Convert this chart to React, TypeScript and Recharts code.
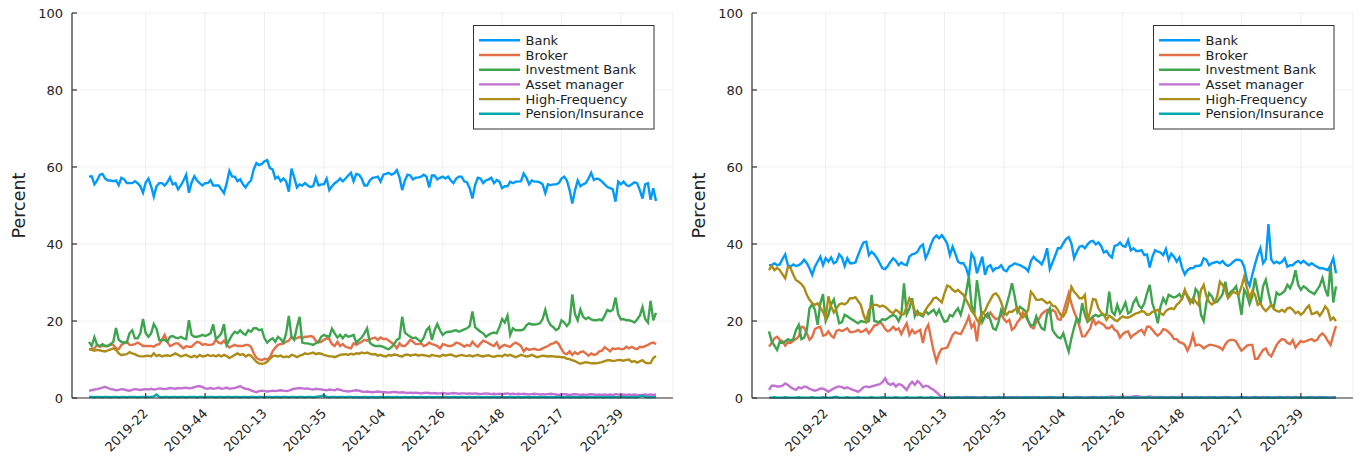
import React from 'react';
import { LineChart, Line, XAxis, YAxis, CartesianGrid, Legend } from 'recharts';

const tickIdx = [21, 43, 65, 87, 109, 131, 153, 175, 197];
const tickLabels = ['2019-22', '2019-44', '2020-13', '2020-35', '2021-04', '2021-26', '2021-48', '2022-17', '2022-39'];
const yTicks = [0, 20, 40, 60, 80, 100];
const seriesNames = ['Bank', 'Broker', 'Investment Bank', 'Asset manager', 'High-Frequency', 'Pension/Insurance'];
const seriesColors = ['#009AFA', '#E36F47', '#3EA44E', '#C271D2', '#AC8D18', '#00A9AD'];

// ---------- Left panel ----------
const leftBank = [
  57.5,57.6,55.5,56.5,58,58.2,57,56.5,56.5,56.3,
  56.5,55.3,57.2,56.8,55.8,55.8,55.8,56.3,55.8,55,
  53.3,56,57,55,52.3,55,55.8,55.8,55.2,56,
  57.3,55.5,55.8,54.2,55.2,56.5,58,53.3,56,57.6,
  56.5,55.8,55.2,55.8,55.8,56.6,55.2,55.2,55.2,54.2,
  53.2,55.8,59,57.5,57.5,56.3,56.8,55.5,54.7,55.8,
  56.5,59.4,61,60.5,60.8,61.5,61.8,59.7,59.4,57,
  57.5,56.3,57,56.3,53.6,59.6,57.3,54.7,55.5,55.2,
  55.8,55.2,54.8,55,57.3,55.2,55.5,55.5,57,54,
  55,55.8,56.3,57,56.3,57,57.8,58.5,56.3,58.2,
  58,57,55.2,55.2,56.5,57.2,57.3,57.5,56.2,58,
  58.2,58.5,58,58.3,59.2,57.3,54,56.5,58,57.8,
  56.8,57.2,57.3,57.5,58,57.5,54.7,57.8,57.8,56.8,
  57.2,57.5,57,57.5,56.5,55.8,57,57.5,57.5,56.3,
  56,54.5,51.8,55.3,57.2,57,55.8,56.5,56.8,57.2,
  55.8,56.6,56.2,54.5,55,55,56.2,55.8,56.2,56.2,
  56.3,58.3,57.2,55.5,56.5,56.2,56.2,56,55.5,53.2,
  55.5,55.3,55.5,55.5,55.8,57,57.5,56.5,54,50.5,
  53.9,56.5,55,55.5,55.8,57,58.5,56.6,57,56.8,
  56.2,55.5,54.8,54.5,54.2,51,56.2,55.5,56.2,55.3,
  55,55.5,56,55.8,54,51.8,55.5,55.8,51.5,54.5,51.2,
];
const leftBroker = [
  12.7,12.7,12.9,13.8,13.3,13.5,13.5,13.5,13.8,13.8,
  12.9,12.7,13.8,14.2,14.6,13.8,13.8,14,14.4,14,
  13.5,13.5,13.5,13.5,13.3,13.8,14,15.1,16.4,14.6,
  13.5,13.8,14.2,14.2,13.5,12.9,13.5,13.3,13.3,14,
  14.6,14.4,13.8,14,13.8,13.8,14,15.1,14.4,14.2,
  14.9,13.8,13.1,13.5,13.8,13.5,13.5,13.5,13.8,13.8,
  13.3,11.6,10.4,10,9.8,10.2,10,10.6,12.1,13.1,
  13.8,14,14.2,14.6,14.9,15.9,15.5,15.5,15.9,15.5,
  15.9,15.9,16.1,15.9,14.9,14.4,14.6,15.1,15.5,15.3,
  14,13.5,14.6,13.5,14,13.3,13.1,12.9,14.2,13.8,
  14.2,14.6,15.1,14.9,15.3,15.5,15.7,15.1,15.7,15.3,
  15.4,14.9,14.4,13.8,12.9,14.2,13.5,13.5,14.2,15.1,
  14.6,14,14,14.2,13.5,13.8,14.4,14,13.8,13.5,
  12.9,14,13.8,13.5,13.5,13.8,14.4,14.2,13.8,13.3,
  13.8,13.5,14.6,13.8,13.3,14.2,14.9,14.6,14.2,13.8,
  13.5,14.4,12.9,13.5,13.8,13.5,13.3,14,14.4,14,
  13.5,12.1,12.9,12.5,12.7,12.8,12.5,12.5,12.9,13.2,
  13.5,14,14.2,14.6,14,12.7,11.6,11.4,12.1,11.2,
  11.9,11.4,11.9,12.1,11.6,11,11.6,11.2,11.4,12.1,
  12.3,13.2,12.7,12.1,12.9,12.7,12.9,12.7,12.7,13.3,
  12.9,13.3,12.9,12.7,13.3,13.2,13.5,13.8,14.2,14.4,14,
];
const leftInvBank = [
  14.6,13.5,15.8,13.8,13.5,14,13.5,13.5,14,14.6,
  18.2,15.1,14.6,14.4,14.4,16.8,17.6,15.5,15.5,16.8,
  20.5,16.8,15.9,16.8,19.2,18,15.1,15,15.1,14.6,
  15.9,16.1,15.7,15.5,15.9,15.5,15.3,20.2,16.4,15.9,
  15.9,16.1,16.4,16.1,16.4,16.8,19.1,15.3,15.9,16.8,
  19.2,13.8,15.1,16.4,17.2,16.8,17.6,16.8,16.4,17.6,
  17.2,18.1,18.1,17.6,17.8,15.5,14.4,15.1,15.5,14.6,
  15.9,15.3,14.4,16.8,21.3,15.9,15.1,18.4,21.1,14.4,
  14.2,14.2,14,13.8,14.2,14.6,15.9,16.4,16.1,15.9,
  18,16.8,15.7,16.4,15.5,16.4,15.9,16.1,16.4,14.4,
  15.1,15.7,16.8,18.1,14.4,13.8,13.5,13.5,13.5,13.3,
  12.9,12.7,13.2,14,15.1,15.5,21.1,17,16.4,15.9,
  15.5,15.7,15.1,14.6,15.7,17.6,18.4,15.1,17.6,19.2,
  17.6,16.4,17,17.2,17.2,17.5,17.6,17.2,17.5,17.8,
  18.1,18.7,22.5,18.4,17.8,17.2,16.8,15.9,16.4,16.8,
  17,16.8,18.4,20.5,19.6,21.4,16.4,18.1,17.6,17.6,
  17.6,17.8,18.9,19.4,19.1,19.1,19.2,19.4,20.5,22.9,
  20.2,18.9,18.4,17.6,18.1,20.2,19.6,18.7,19.6,26.9,
  21.8,20.2,23,21.1,20.5,20.9,20.4,20.2,20.2,20.4,
  20.2,21.4,22.9,22.5,22.9,26.1,21.8,20.4,20.5,20.2,
  20.2,20,19.6,20.4,21.4,23.6,20.5,19.6,25.2,20.2,22.1,
];
const leftAssetMgr = [
  1.9,2.0,2.2,2.3,2.5,2.7,2.9,2.6,2.3,2.2,
  2.0,2.1,2.3,2.2,2.0,1.9,2.1,2.3,2.2,2.1,
  2.2,2.3,2.2,2.4,2.2,2.3,2.5,2.4,2.3,2.4,
  2.6,2.5,2.4,2.6,2.5,2.6,2.7,2.5,2.6,2.8,
  3.0,3.1,2.8,2.5,2.4,2.6,2.4,2.5,2.7,2.4,
  2.5,2.7,2.4,2.5,2.6,2.8,3.1,2.6,2.4,2.3,
  2.0,1.7,1.5,1.8,1.9,1.8,1.7,1.8,1.9,1.8,
  1.9,2.0,1.9,1.8,1.9,2.2,2.4,2.5,2.6,2.5,
  2.4,2.5,2.3,2.2,2.4,2.3,2.2,2.1,2.0,2.2,
  2.1,2.0,2.3,2.1,1.9,1.8,1.7,1.8,1.9,2.0,
  1.9,1.7,1.6,1.7,1.6,1.5,1.6,1.7,1.6,1.5,
  1.5,1.4,1.5,1.6,1.5,1.4,1.5,1.4,1.3,1.4,
  1.3,1.4,1.3,1.2,1.3,1.4,1.3,1.2,1.3,1.2,
  1.2,1.3,1.2,1.1,1.2,1.3,1.2,1.1,1.2,1.2,
  1.1,1.2,1.1,1.2,1.1,1.0,1.1,1.2,1.1,1.0,
  1.1,1.0,1.1,1.0,1.1,1.2,1.0,1.1,1.0,1.1,
  1.0,1.1,1.0,0.9,1.0,1.1,1.0,0.9,1.0,0.9,
  1.0,1.1,1.0,0.9,0.8,0.9,1.0,0.9,0.8,0.9,
  1.0,0.9,0.8,0.9,0.8,0.9,1.0,0.9,0.8,0.9,
  0.8,0.9,0.8,0.9,0.8,1.0,0.9,0.8,0.9,0.8,
  0.9,0.8,0.9,0.8,0.7,0.8,0.9,0.8,0.9,0.8,0.9,
];
const leftHighFreq = [
  12.7,12.5,12.3,12.5,12.4,12.2,12.1,12.4,12.6,12.9,
  12.5,11.6,11.1,11.3,11.4,11.9,11.6,11.4,11.0,10.8,
  10.8,10.9,11.0,10.8,11.6,10.9,11.2,10.8,11.0,11.1,
  10.9,11.2,11.6,11.2,10.8,11.0,11.2,10.8,10.6,11.0,
  10.6,11.2,10.8,10.9,11.2,10.9,11.1,10.8,11.2,10.8,
  11.2,10.9,10.4,10.8,11.2,11.6,11.2,11.4,10.8,11.2,
  11.0,10.2,9.4,9.0,8.9,9.0,9.4,10.2,10.8,11.0,
  10.8,11.0,10.6,10.8,10.6,11.2,11.0,10.6,11.0,11.2,
  11.6,11.4,11.6,11.8,11.4,11.6,11.5,11.2,11.0,10.8,
  10.8,10.6,10.9,11.2,11.3,11.4,11.2,11.5,11.3,11.6,
  11.5,11.8,11.6,11.8,11.5,11.3,11.4,11.0,11.2,10.9,
  10.8,11.2,11.0,11.3,11.2,10.9,10.8,11.2,11.3,11.0,
  11.2,11.3,11.0,11.2,11.1,11.0,10.8,11.2,11.0,10.9,
  10.8,11.2,11.0,11.2,11.3,11.0,10.8,11.0,11.2,11.0,
  10.9,11.1,10.8,11.0,11.2,10.9,10.8,11.0,11.1,10.8,
  10.7,10.9,11.0,10.8,11.3,11.0,11.2,10.9,10.6,10.9,
  11.2,11.0,10.8,10.9,11.2,10.9,10.6,10.8,11.0,10.9,
  10.8,10.9,10.8,10.7,10.7,10.6,10.6,10.2,10.1,9.8,
  9.6,9.2,8.9,9.1,9.3,9.2,9.0,9.1,9.0,9.2,
  9.3,9.6,9.8,9.8,9.6,9.7,9.9,9.8,9.7,9.9,
  10.0,9.4,9.6,9.2,9.5,9.8,9.2,9.0,9.1,10.4,10.9,
];
const leftPension = [
  0.3,0.3,0.2,0.3,0.3,0.2,0.3,0.3,0.2,0.3,
  0.3,0.2,0.3,0.3,0.2,0.3,0.3,0.3,0.2,0.3,
  0.3,0.2,0.3,0.3,0.4,0.9,0.3,0.2,0.3,0.3,
  0.2,0.3,0.3,0.2,0.3,0.3,0.2,0.3,0.3,0.3,
  0.2,0.3,0.3,0.2,0.3,0.3,0.3,0.2,0.3,0.3,
  0.2,0.3,0.3,0.2,0.3,0.3,0.2,0.3,0.3,0.2,
  0.3,0.3,0.2,0.3,0.3,0.2,0.3,0.3,0.2,0.3,
  0.3,0.2,0.3,0.3,0.2,0.3,0.3,0.2,0.3,0.3,
  0.2,0.3,0.3,0.2,0.3,0.4,0.5,0.7,0.3,0.2,
  0.3,0.3,0.2,0.3,0.3,0.2,0.3,0.3,0.2,0.3,
  0.2,0.2,0.3,0.2,0.2,0.3,0.2,0.2,0.3,0.2,
  0.2,0.3,0.2,0.2,0.3,0.2,0.2,0.3,0.2,0.2,
  0.3,0.2,0.2,0.3,0.2,0.2,0.3,0.2,0.2,0.3,
  0.2,0.2,0.3,0.2,0.2,0.3,0.2,0.2,0.3,0.2,
  0.2,0.3,0.2,0.2,0.3,0.2,0.2,0.3,0.2,0.2,
  0.3,0.2,0.2,0.3,0.2,0.2,0.3,0.2,0.2,0.3,
  0.2,0.2,0.3,0.2,0.2,0.3,0.2,0.2,0.3,0.2,
  0.2,0.3,0.2,0.2,0.3,0.2,0.2,0.3,0.2,0.2,
  0.3,0.2,0.2,0.3,0.2,0.2,0.3,0.2,0.2,0.3,
  0.2,0.2,0.3,0.2,0.2,0.3,0.2,0.2,0.3,0.2,
  0.2,0.3,0.2,0.2,0.4,0.6,0.3,0.2,0.2,0.3,0.2,
];

// ---------- Right panel ----------
const rightBank = [
  34.5,34.5,35,34.5,34.7,36.1,37.3,34.5,34.1,34.7,
  34.3,34.5,35,35.9,35,33.7,32,34.1,35.4,36.7,
  34.5,36.3,35.4,36.5,35,35.4,37.3,36.5,34.3,36.3,
  35,35,35.2,37.1,38.9,40.4,40.6,37.1,38,37.3,
  36.3,35,33.7,33.5,34.3,35.4,36.3,35.6,34.5,35.2,
  34.7,34.5,36.7,37.3,37.5,38,39.3,39.9,36.3,37.8,
  39.9,41.5,42.2,41.5,42.3,41.3,40.1,37.1,39.3,37.5,
  35.4,35,35,33.8,31.5,37.5,36.3,32.4,34.5,36.7,
  32,34.1,34.5,33,33.7,33.8,34.5,33.2,32.9,34.1,
  34.5,35,34.7,34.5,34.1,33.7,32.9,35.6,36.7,35.9,
  35.4,34.7,36.3,38.9,33.5,35.2,37,38.9,38.9,40.2,
  41.3,41.8,40.2,36.3,38,39.3,39.5,38.9,39.9,40.6,
  40.8,39.9,40.4,39.5,37.8,38.2,37.1,36.5,39.5,39.7,
  40.4,39.5,39.3,41,38.4,38.9,38.2,38.2,38.4,37.1,
  37.3,33.9,36.7,38.4,38,37.8,37.1,38.7,35.9,37.5,
  36.7,35.4,36.5,33.8,32.1,33.2,33.7,33.7,34.3,34.3,
  34.5,36.3,35.9,34.5,35,35.2,35.4,35,35.6,34.7,
  34.3,34.7,35.4,35.9,35.9,35.6,34.1,30.6,29.1,32,
  34.7,37.1,38.9,35,36,45.2,36,35,35.4,35,
  35.4,36.3,34.1,34.5,34.5,35.2,35.6,35,35.6,35,
  34.5,35,34.5,34.1,33.7,33.7,33.5,33.2,34.5,36.3,32.4,
];
const rightBroker = [
  13.4,14.3,15.5,15.9,15.1,14.7,13.6,14.5,14.3,14.9,
  15.3,15.9,18.5,18.3,16.8,15.1,15.9,17.9,18.3,18.5,
  16.2,16.4,17.3,16.2,15.7,17.4,17.7,17.4,17.7,18.1,
  17.1,17.1,17.3,17.7,17.1,17.4,17.9,16.8,17.7,18.8,
  19,19.8,19.1,17.9,17.3,17.7,18.5,17.7,18.1,16.6,
  18.1,19.4,16.4,17.7,16.8,17.3,17.7,14.3,17.7,19,
  15.5,12.1,9.5,11.6,12.8,12.9,13.1,14.7,16.4,17.1,
  16.8,16.6,17.9,19.4,21.2,18.3,19.4,14.7,20.7,22.2,
  21.6,20.9,22.2,21.2,20.5,20.7,21.8,20.5,19.7,20.3,
  17.7,18.3,19.7,20.5,22.2,21.2,20,18.5,18.1,19.8,
  20.5,21.8,22.4,22.9,22,22.9,22.4,20.5,20.3,22.4,
  24.8,27.2,24.6,22.4,20.7,18.5,16,16,17.1,18.1,
  20.7,19.1,19.8,19.4,19,18.1,18.1,18.8,17.7,17.3,
  15.7,16.6,17.1,17.3,15.7,16.4,16.8,17.4,17.7,16.6,
  18.5,18.5,17.7,16.8,16.2,16.8,17.9,17.7,17.1,16.4,
  15.3,15.3,14.5,14.3,13.8,12.3,13.8,16.4,13.6,13.9,
  13.6,12.9,13.4,13.8,13.8,13.6,13.4,13.1,12.5,13.9,
  14.8,15.1,15.1,14.7,13.4,12.3,12.9,13.6,13.8,13.8,
  10.2,10.2,11.4,12.5,12.9,11.4,10.8,12.3,13.8,14.7,
  15.3,15.1,14.3,14,15.1,13.1,14,14.8,14.5,14.8,
  15.1,15.3,14.8,15.1,16.2,16.8,16,14.8,13.8,16.4,18.7,
];
const rightInvBank = [
  17.3,14.7,13.6,12.5,14.7,14.3,14.7,15.3,14.9,15.3,
  17.7,19,15.3,15.7,17.7,23.3,24.3,22.9,19,24.6,
  27,20,21.6,24.3,25.6,22.4,19.4,19.7,21.6,21.2,
  20.7,20.3,19.8,19.4,20,19.8,19.7,20,26.8,20,
  19.8,19.7,20.5,20.3,20.7,21.2,21.6,21.2,20,21.6,
  29.8,21.8,23.3,25.9,21.2,22.6,21.6,21.2,22.6,21.8,
  22.4,22.9,21.6,22.9,21.2,19.8,20,21.6,21.2,22.4,
  23.3,21.6,24.2,27.4,31.5,24.3,21.6,30.6,25.9,19.8,
  21.2,22,20.3,18.1,17.7,19.7,22.9,21.8,24.2,26.8,
  29.8,26.4,22.4,23.7,23.1,22.6,20,18.8,19,21.2,
  19.4,18.1,17.7,22,23.3,17.7,16.6,15.8,15.5,16.8,
  14.3,12.1,15.5,18.3,20.7,19.8,24.6,21.6,19.8,20.5,
  21.2,21.6,21.2,21.6,21.6,21.6,27.6,22.4,21.6,24.2,
  22,23.1,24.8,22,22.4,24.8,25.9,24,23.3,24.6,
  27.2,29.4,24.6,22.4,19.4,23.7,25.9,24.6,26.8,26.4,
  26.1,26.4,27,25.9,27.8,26.6,25.5,24.8,28.3,27.4,
  21.6,20,24.8,27.2,26.4,24.8,25,25.9,27,30.2,
  26.4,27.6,28.1,29,25.9,21.6,28.1,26.8,24.4,26.4,
  31.2,27.6,24.2,29,30.7,27.2,24.2,23.7,27.4,26.8,
  27.2,27.8,29.4,28.5,30.2,33.2,29.4,28.1,29,28.5,
  27.8,27.4,27,28.1,29.2,31.2,28.3,26.4,34.5,24.8,29,
];
const rightAssetMgr = [
  2.1,3.2,3.2,3.0,3.0,3.2,3.8,3.4,2.8,2.4,
  2.1,2.8,2.5,3.0,2.8,2.4,2.1,1.9,2.1,2.5,
  2.4,2.1,1.6,2.1,2.5,2.8,3.0,2.8,2.5,2.8,
  2.4,2.1,1.9,1.6,2.1,2.8,3.0,2.8,3.0,3.2,
  3.4,3.6,4.1,5.1,3.8,3.4,3.8,3.0,3.6,3.4,
  2.8,2.1,3.4,4.2,3.4,4.4,3.8,2.8,3.2,3.0,
  2.5,2.1,1.5,0.8,0.3,0.2,0.1,0.2,0.1,0.2,
  0.2,0.1,0.2,0.3,0.2,0.1,0.2,0.2,0.1,0.2,
  0.3,0.2,0.1,0.2,0.2,0.3,0.2,0.1,0.2,0.2,
  0.1,0.2,0.3,0.2,0.2,0.1,0.2,0.2,0.3,0.2,
  0.2,0.1,0.2,0.2,0.3,0.2,0.2,0.1,0.2,0.3,
  0.2,0.2,0.1,0.2,0.3,0.2,0.2,0.1,0.2,0.2,
  0.3,0.2,0.2,0.3,0.2,0.2,0.3,0.4,0.3,0.2,
  0.3,0.4,0.3,0.2,0.3,0.4,0.5,0.4,0.3,0.2,
  0.3,0.4,0.3,0.2,0.3,0.2,0.3,0.2,0.2,0.3,
  0.2,0.2,0.3,0.2,0.2,0.1,0.2,0.2,0.3,0.2,
  0.2,0.1,0.2,0.3,0.2,0.2,0.1,0.2,0.2,0.3,
  0.2,0.2,0.1,0.2,0.2,0.3,0.2,0.2,0.1,0.2,
  0.3,0.2,0.2,0.3,0.2,0.2,0.1,0.2,0.2,0.3,
  0.2,0.2,0.3,0.2,0.2,0.3,0.2,0.2,0.1,0.2,
  0.2,0.3,0.2,0.2,0.3,0.2,0.2,0.2,0.1,0.2,0.2,
];
const rightHighFreq = [
  33.2,34.3,33.2,33.8,33.2,32.1,31.1,34.1,33.7,32,
  30.6,30.2,29.6,28.7,26.8,25.5,24.6,24.2,24.6,23.5,
  22.4,20.7,26.4,23.8,22.2,23.3,24.3,24.6,24.3,24.8,
  25.9,25.9,26.2,25.2,24.2,21.6,20,22.9,23.7,24.2,
  24.2,23.7,24,23.7,23.1,22.4,22,22.9,22.4,21.6,
  21.8,23.8,25.9,24.8,22.6,21.6,22,21.6,22.9,24,
  24.8,25.9,26.1,25.5,24.8,27.2,29.2,28.9,28.1,27.6,
  28.1,27.4,26.8,25.5,24.2,22.6,21.8,20.3,19.4,22,
  22.6,24.3,25.5,26.8,27.2,26.4,24.8,22.6,21.6,22.4,
  22.4,22.9,23.5,21.8,20.9,21.6,22.9,27.6,26.8,25.5,
  25.5,25.7,25.2,24.6,25,24,23.8,22.9,21.6,21.2,
  22.4,25.2,28.9,27.6,26.8,25.9,25.9,26.8,20,22.6,
  25.7,25.5,23.3,22.2,21.6,20.3,21.4,20.9,20.3,20,
  20.7,21.2,20.9,20.9,21.2,21.6,22,22.2,22.6,22.4,
  21.6,21.8,22.4,22.6,22.9,22,21.6,22.6,23.1,23.3,
  23.1,24.2,24.8,25.9,28.1,26.1,24.6,25.9,25,24.2,
  28.1,29.4,26.4,25,24.3,24.8,26.4,30.2,29.4,28.1,
  25.9,26.8,27.6,27.2,26.9,28.9,31.5,28.7,25.9,27.8,
  26.8,24.2,24.6,23.3,22.6,23.3,24.2,23.1,22.6,22.4,
  22.9,22.4,23.3,23.5,22.9,22,22.4,21.6,22.2,23.3,
  24,21.8,22,22.4,21.4,22.4,23.8,22.9,20.3,20.9,20,
];
const rightPension = [
  0.1,0.1,0.2,0.1,0.1,0.1,0.2,0.1,0.1,0.1,
  0.1,0.2,0.1,0.1,0.1,0.1,0.2,0.1,0.1,0.1,
  0.2,0.1,0.1,0.1,0.2,0.3,0.1,0.1,0.1,0.2,
  0.1,0.1,0.1,0.2,0.1,0.1,0.1,0.1,0.2,0.1,
  0.1,0.1,0.2,0.1,0.1,0.1,0.1,0.2,0.1,0.1,
  0.1,0.2,0.1,0.1,0.1,0.1,0.2,0.1,0.1,0.1,
  0.2,0.1,0.1,0.1,0.1,0.2,0.1,0.1,0.1,0.1,
  0.2,0.1,0.1,0.1,0.1,0.2,0.1,0.1,0.1,0.1,
  0.2,0.1,0.1,0.1,0.1,0.2,0.1,0.1,0.1,0.1,
  0.2,0.1,0.1,0.1,0.1,0.2,0.1,0.1,0.1,0.1,
  0.2,0.1,0.1,0.1,0.1,0.2,0.1,0.1,0.1,0.1,
  0.2,0.1,0.1,0.1,0.1,0.2,0.1,0.1,0.1,0.1,
  0.2,0.1,0.1,0.1,0.1,0.2,0.1,0.1,0.1,0.1,
  0.2,0.1,0.1,0.1,0.1,0.2,0.1,0.1,0.1,0.1,
  0.2,0.1,0.1,0.1,0.1,0.2,0.1,0.1,0.1,0.1,
  0.2,0.1,0.1,0.1,0.1,0.2,0.1,0.1,0.1,0.1,
  0.2,0.1,0.1,0.1,0.1,0.2,0.1,0.1,0.1,0.1,
  0.2,0.1,0.1,0.1,0.1,0.2,0.1,0.1,0.1,0.1,
  0.2,0.1,0.1,0.1,0.1,0.2,0.1,0.1,0.1,0.1,
  0.2,0.1,0.1,0.1,0.1,0.2,0.1,0.1,0.1,0.1,
  0.2,0.1,0.1,0.1,0.1,0.2,0.1,0.1,0.1,0.1,0.1,
];

const leftSeries = [leftBank, leftBroker, leftInvBank, leftAssetMgr, leftHighFreq, leftPension];
const rightSeries = [rightBank, rightBroker, rightInvBank, rightAssetMgr, rightHighFreq, rightPension];

function buildRows(series: number[][]) {
  const n = Math.max(...series.map((s) => s.length));
  const rows: any[] = [];
  for (let i = 0; i < n; i++) {
    const r: any = { idx: i };
    series.forEach((s, k) => {
      r['s' + k] = s[i];
    });
    rows.push(r);
  }
  return rows;
}

const FONT = 'DejaVu Sans';
const TEXT = '#222';

const XTick = (props: any) => {
  const { x, y, payload } = props;
  const pos = tickIdx.indexOf(payload.value);
  const label = pos >= 0 ? tickLabels[pos] : '';
  return (
    <text
      x={x}
      y={y}
      transform={`rotate(-45, ${x}, ${y})`}
      textAnchor="end"
      dominantBaseline="central"
      fontSize={13}
      fontFamily={FONT}
      fill={TEXT}
    >
      {label}
    </text>
  );
};

const LegendBox = () => (
  <svg width={182} height={105} style={{ display: 'block' }}>
    <rect x={0.5} y={0.5} width={180.5} height={103.5} fill="#fff" stroke="#333" strokeWidth={1} />
    {seriesNames.map((n, k) => {
      const yy = 15.3 + k * 14.7;
      return (
        <g key={n}>
          <line x1={6} x2={47} y1={yy} y2={yy} stroke={seriesColors[k]} strokeWidth={2.4} />
          <text x={52.5} y={yy} dominantBaseline="central" fontSize={13} fontFamily={FONT} fill={TEXT}>
            {n}
          </text>
        </g>
      );
    })}
  </svg>
);

function Panel({ series, left, width, right }: { series: number[][]; left: number; width: number; right: number }) {
  const data = buildRows(series);
  return (
    <div style={{ position: 'absolute', left, top: 0 }}>
      <LineChart width={width} height={458} data={data} margin={{ top: 13, right, left: 0, bottom: 0 }}>
        <CartesianGrid stroke="#e8e8e8" strokeWidth={0.7} />
        <XAxis
          dataKey="idx"
          type="number"
          domain={[-6.3, 216.3]}
          ticks={tickIdx}
          interval={0}
          height={60}
          tick={<XTick />}
          tickSize={-5}
          tickMargin={18}
          stroke="#333"
          strokeWidth={1.2}
          allowDataOverflow
        />
        <YAxis
          type="number"
          domain={[0, 100]}
          ticks={yTicks}
          interval={0}
          width={72}
          tickSize={-5}
          tickMargin={14}
          stroke="#333"
          strokeWidth={1.2}
          tick={{ fontSize: 13, fill: TEXT, fontFamily: FONT }}
          label={{
            value: 'Percent',
            angle: -90,
            position: 'insideLeft',
            offset: 19,
            style: { textAnchor: 'middle', fontSize: 17.5, fill: TEXT, fontFamily: FONT },
          }}
        />
        {series.map((_, k) => (
          <Line
            key={k}
            type="linear"
            dataKey={'s' + k}
            name={seriesNames[k]}
            stroke={seriesColors[k]}
            strokeWidth={2.4}
            dot={false}
            activeDot={false}
            isAnimationActive={false}
          />
        ))}
        <Legend
          layout="vertical"
          align="center"
          verticalAlign="middle"
          wrapperStyle={{ left: 473, top: 25, width: 182, height: 105 }}
          content={<LegendBox />}
        />
      </LineChart>
    </div>
  );
}

export default function App() {
  return (
    <div style={{ position: 'absolute', left: 0, top: 0, width: 1363, height: 458, background: '#fff', fontFamily: FONT }}>
      <Panel series={leftSeries} left={0} width={690} right={17} />
      <Panel series={rightSeries} left={680} width={683} right={10} />
    </div>
  );
}
